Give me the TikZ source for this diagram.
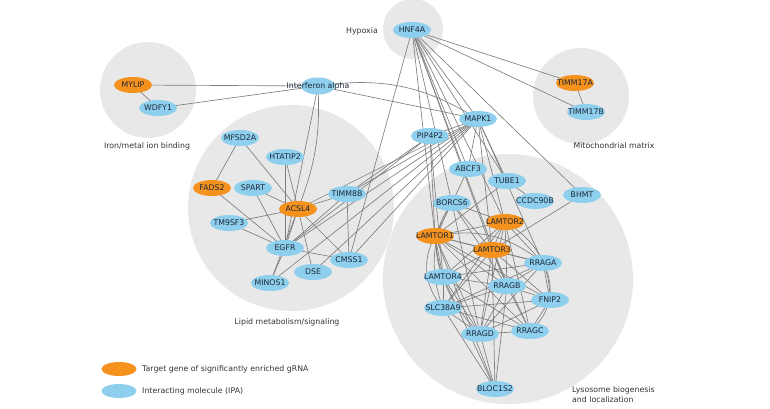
\documentclass[tikz,border=0pt]{standalone}
\usepackage{fontspec}
\setmainfont{DejaVu Sans}
\usetikzlibrary{shapes.geometric}
\pgfdeclarelayer{bg}
\pgfdeclarelayer{edges}
\pgfsetlayers{bg,edges,main}
\definecolor{orng}{HTML}{F5921E}
\definecolor{lblue}{HTML}{8FCFEE}
\definecolor{grpbg}{HTML}{E8E8E8}
\definecolor{edgec}{HTML}{7E7E7E}
\definecolor{ntext}{HTML}{1B2838}
\definecolor{ltext}{HTML}{333333}
\newcommand\glab[1]{\makebox[0pt]{#1}}
\tikzset{
  gene/.style={ellipse, minimum width=38pt, minimum height=16pt, inner sep=0pt, fill=lblue, text=ntext, font=\fontsize{7.8}{9}\selectfont},
  target/.style={gene, fill=orng},
  link/.style={draw=edgec, line width=0.65pt},
  grp/.style={fill=grpbg},
  grplabel/.style={text=ltext, font=\fontsize{7.8}{10}\selectfont, inner sep=0pt}
}
\begin{document}
\begin{tikzpicture}[x=1pt,y=-1pt]
\useasboundingbox (0,0) rectangle (770,408);
% group circles
\begin{pgfonlayer}{bg}
\fill[grp] (148,90) circle (48pt);
\fill[grp] (413,29) circle (30pt);
\fill[grp] (581,96) circle (48pt);
\fill[grp] (291,208) circle (103pt);
\fill[grp] (508,279) circle (125pt);
\end{pgfonlayer}
% group labels
\node[grplabel] (lbliron) at (147,146) {Iron/metal ion binding};
\node[grplabel] (lblhyp) at (362,31) {Hypoxia};
\node[grplabel] (lblmito) at (614,146) {Mitochondrial matrix};
\node[grplabel] (lbllipid) at (287,322) {Lipid metabolism/signaling};
\node[grplabel, anchor=north west, align=left] (lbllyso) at (572,386) {Lysosome biogenesis\\and localization};
% nodes
\node[target] (MYLIP) at (133,85) {\glab{MYLIP}};
\node[gene] (WDFY1) at (158,108) {\glab{WDFY1}};
\node[gene, minimum width=34pt, minimum height=17pt] (IFN) at (318,86) {\glab{Interferon alpha}};
\node[gene] (HNF4A) at (412,30) {\glab{HNF4A}};
\node[target] (TIMMA) at (575,83) {\glab{TIMM17A}};
\node[gene] (TIMMB) at (586,112) {\glab{TIMM17B}};
\node[gene] (MAPK1) at (478,119) {\glab{MAPK1}};
\node[gene] (PIP4P2) at (430,136) {\glab{PIP4P2}};
\node[gene] (MFSD2A) at (240,138) {\glab{MFSD2A}};
\node[gene] (HTATIP2) at (285,157) {\glab{HTATIP2}};
\node[target] (FADS2) at (212,188) {\glab{FADS2}};
\node[gene] (SPART) at (253,188) {\glab{SPART}};
\node[target] (ACSL4) at (298,209) {\glab{ACSL4}};
\node[gene] (TIMM8B) at (347,194) {\glab{TIMM8B}};
\node[gene] (TM9SF3) at (229,223) {\glab{TM9SF3}};
\node[gene] (EGFR) at (285,248) {\glab{EGFR}};
\node[gene] (CMSS1) at (349,260) {\glab{CMSS1}};
\node[gene] (DSE) at (313,272) {\glab{DSE}};
\node[gene] (MINOS1) at (270,283) {\glab{MINOS1}};
\node[gene] (ABCF3) at (468,169) {\glab{ABCF3}};
\node[gene] (TUBE1) at (507,181) {\glab{TUBE1}};
\node[gene] (CCDC90B) at (535,201) {\glab{CCDC90B}};
\node[gene] (BHMT) at (582,195) {\glab{BHMT}};
\node[gene] (BORCS6) at (452,203) {\glab{BORCS6}};
\node[target] (L2) at (505,222) {\glab{LAMTOR2}};
\node[target] (L1) at (435,236) {\glab{LAMTOR1}};
\node[target] (L3) at (492,250) {\glab{LAMTOR3}};
\node[gene] (RRAGA) at (543,263) {\glab{RRAGA}};
\node[gene] (L4) at (443,277) {\glab{LAMTOR4}};
\node[gene] (RRAGB) at (507,286) {\glab{RRAGB}};
\node[gene] (FNIP2) at (550,300) {\glab{FNIP2}};
\node[gene] (SLC) at (443,308) {\glab{SLC38A9}};
\node[gene] (RRAGC) at (530,331) {\glab{RRAGC}};
\node[gene] (RRAGD) at (480,334) {\glab{RRAGD}};
\node[gene] (BLOC) at (495,389) {\glab{BLOC1S2}};
% legend
\node[target, minimum width=35pt, minimum height=14pt] (legT) at (119,369) {};
\node[gene, minimum width=35pt, minimum height=14pt] (legI) at (119,391) {};
\node[grplabel, anchor=west] (legTt) at (142,369) {Target gene of significantly enriched gRNA};
\node[grplabel, anchor=west] (legIt) at (142,391) {Interacting molecule (IPA)};
% edges
\begin{pgfonlayer}{edges}
\foreach \a/\b in {MYLIP/WDFY1, MYLIP/IFN, WDFY1/IFN, IFN/EGFR, IFN/MAPK1,
  HNF4A/TIMMA, HNF4A/TIMMB, TIMMA/TIMMB,
  MFSD2A/FADS2, MFSD2A/ACSL4, HTATIP2/ACSL4, HTATIP2/EGFR, FADS2/EGFR,
  SPART/ACSL4, SPART/EGFR, TM9SF3/ACSL4, TM9SF3/EGFR, ACSL4/TIMM8B,
  ACSL4/EGFR, ACSL4/CMSS1, ACSL4/DSE, ACSL4/MINOS1, EGFR/TIMM8B, EGFR/CMSS1,
  EGFR/MINOS1, TIMM8B/CMSS1,
  MAPK1/PIP4P2, MAPK1/TIMM8B, MAPK1/EGFR, MAPK1/ACSL4, MAPK1/CMSS1, MAPK1/DSE,
  MAPK1/MINOS1, PIP4P2/EGFR, PIP4P2/TIMM8B, HNF4A/CMSS1,
  HNF4A/MAPK1, HNF4A/L1, HNF4A/BORCS6, HNF4A/ABCF3, HNF4A/L2, HNF4A/L3,
  HNF4A/TUBE1, HNF4A/RRAGB, HNF4A/BHMT,
  MAPK1/TUBE1, MAPK1/L2, MAPK1/L3, MAPK1/ABCF3, MAPK1/RRAGA,
  PIP4P2/L1, PIP4P2/L4, BHMT/L3, ABCF3/BORCS6, TUBE1/CCDC90B, TUBE1/L1,
  L1/L2, L1/L3, L1/L4, L1/RRAGA, L1/RRAGB, L1/RRAGC, L1/RRAGD,
  L2/L3, L2/L4, L2/RRAGA, L2/RRAGB, L2/RRAGC, L2/RRAGD, L2/SLC,
  L3/L4, L3/RRAGA, L3/RRAGB, L3/RRAGC, L3/RRAGD, L3/SLC,
  L4/RRAGA, L4/RRAGB, L4/RRAGC, L4/RRAGD, L4/SLC,
  RRAGA/RRAGB, RRAGA/RRAGD, RRAGA/SLC,
  RRAGB/RRAGC, RRAGB/RRAGD, RRAGB/SLC,
  RRAGC/RRAGD, RRAGC/SLC, RRAGD/SLC,
  FNIP2/RRAGA, FNIP2/RRAGB, FNIP2/RRAGC, FNIP2/RRAGD, FNIP2/L3, FNIP2/L1, FNIP2/SLC,
  BORCS6/L1, BORCS6/L2, BORCS6/L3, BORCS6/RRAGB, BORCS6/RRAGD,
  BLOC/RRAGD, BLOC/SLC, BLOC/L4, BLOC/L1, BLOC/RRAGB, BLOC/L3}
  \draw[link] (\a.center) -- (\b.center);
\draw[link] (IFN.center) to[bend left=20] (MAPK1.center);
\draw[link] (IFN.center) to[bend left=12] (ACSL4.center);
\draw[link] (RRAGA.center) to[bend left=40] (RRAGC.center);
\draw[link] (L2.center) to[bend left=30] (FNIP2.center);
\draw[link] (L1.center) to[bend right=35] (SLC.center);
\draw[link] (BORCS6.center) to[bend right=30] (L4.center);
\draw[link] (BORCS6.center) to[bend right=25] (SLC.center);
\draw[link] (L1.center) to[bend left=25] (RRAGA.center);
\draw[link] (L1.center) to[bend right=20] (RRAGD.center);
\end{pgfonlayer}
\end{tikzpicture}
\end{document}
